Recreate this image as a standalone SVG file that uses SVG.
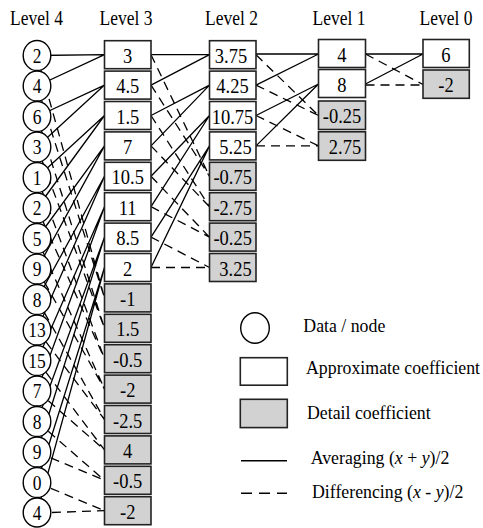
<svg xmlns="http://www.w3.org/2000/svg" width="483" height="528" viewBox="0 0 483 528">
<style>
.s{stroke:#000;stroke-width:1.3;fill:none}
.d{stroke-dasharray:9 6}
.c{fill:#fff;stroke:#000;stroke-width:1.4}
.b{fill:#fff;stroke:#222;stroke-width:1.6}
.g{fill:#d2d2d2;stroke:#222;stroke-width:1.6}
text{font-family:"Liberation Serif","Times New Roman",serif;fill:#000}
.h{font-size:17.5px;text-anchor:middle}
.v{font-size:18.5px;text-anchor:middle}
.n{font-size:17.5px;text-anchor:middle}
.l{font-size:17.8px}
</style>
<rect width="483" height="528" fill="#fff"/>
<g id="headers">
<text class="h" transform="translate(36.5 25) scale(1 1.15)">Level 4</text>
<text class="h" transform="translate(126 25) scale(1 1.15)">Level 3</text>
<text class="h" transform="translate(231.5 25) scale(1 1.15)">Level 2</text>
<text class="h" transform="translate(339 25) scale(1 1.15)">Level 1</text>
<text class="h" transform="translate(446 25) scale(1 1.15)">Level 0</text>
</g>
<g id="connectors">
<!-- Level 4 to Level 3: averaging -->
<path class="s" d="M37 55.5L104.5 54.7M37 86L104.5 54.7M37 116.5L104.5 85.1M37 147L104.5 85.1M37 177.5L104.5 115.5M37 208L104.5 115.5M37 238.5L104.5 145.9M37 269L104.5 145.9M37 299.5L104.5 176.3M37 330L104.5 176.3M37 360.5L104.5 206.7M37 391L104.5 206.7M37 421.5L104.5 237.1M37 452L104.5 237.1M37 482.5L104.5 267.5M37 513L104.5 267.5"/>
<!-- Level 4 to Level 3: differencing -->
<path class="s d" d="M37 55.5L104.5 297.9M37 86L104.5 297.9M37 116.5L104.5 328.3M37 147L104.5 328.3M37 177.5L104.5 358.7M37 208L104.5 358.7M37 238.5L104.5 389.1M37 269L104.5 389.1M37 299.5L104.5 419.5M37 330L104.5 419.5M37 360.5L104.5 449.9M37 391L104.5 449.9M37 421.5L104.5 480.3M37 452L104.5 480.3M37 482.5L104.5 510.7M37 513L104.5 510.7"/>
<!-- Level 3 to Level 2 -->
<path class="s" d="M151 54.7L209.5 54.7M151 85.1L209.5 54.7M151 115.5L209.5 85.1M151 145.9L209.5 85.1M151 176.3L209.5 115.5M151 206.7L209.5 115.5M151 237.1L209.5 145.9M151 267.5L209.5 145.9"/>
<path class="s d" d="M151 54.7L209.5 176.3M151 85.1L209.5 176.3M151 115.5L209.5 206.7M151 145.9L209.5 206.7M151 176.3L209.5 237.1M151 206.7L209.5 237.1M151 237.1L209.5 267.5M151 267.5L209.5 267.5"/>
<!-- Level 2 to Level 1 -->
<path class="s" d="M256 54L318.5 54M256 85.1L318.5 54M256 115.5L318.5 84M256 145.9L318.5 84"/>
<path class="s d" d="M256 54.7L318.5 115.5M256 85.1L318.5 115.5M256 115.5L318.5 145.9M256 145.9L318.5 145.9"/>
<!-- Level 1 to Level 0 -->
<path class="s" d="M365.5 54L423 54M365.5 84L423 54"/>
<path class="s d" d="M365.5 54L423 84.5M365.5 85L423 85"/>
</g>
<g id="level4">
<g id="n4-0"><ellipse class="c" cx="37" cy="55.5" rx="13.8" ry="15"/><text class="n" transform="translate(37 62.5) scale(1 1.15)">2</text></g>
<g id="n4-1"><ellipse class="c" cx="37" cy="86" rx="13.8" ry="15"/><text class="n" transform="translate(37 93) scale(1 1.15)">4</text></g>
<g id="n4-2"><ellipse class="c" cx="37" cy="116.5" rx="13.8" ry="15"/><text class="n" transform="translate(37 123.5) scale(1 1.15)">6</text></g>
<g id="n4-3"><ellipse class="c" cx="37" cy="147" rx="13.8" ry="15"/><text class="n" transform="translate(37 154) scale(1 1.15)">3</text></g>
<g id="n4-4"><ellipse class="c" cx="37" cy="177.5" rx="13.8" ry="15"/><text class="n" transform="translate(37 184.5) scale(1 1.15)">1</text></g>
<g id="n4-5"><ellipse class="c" cx="37" cy="208" rx="13.8" ry="15"/><text class="n" transform="translate(37 215) scale(1 1.15)">2</text></g>
<g id="n4-6"><ellipse class="c" cx="37" cy="238.5" rx="13.8" ry="15"/><text class="n" transform="translate(37 245.5) scale(1 1.15)">5</text></g>
<g id="n4-7"><ellipse class="c" cx="37" cy="269" rx="13.8" ry="15"/><text class="n" transform="translate(37 276) scale(1 1.15)">9</text></g>
<g id="n4-8"><ellipse class="c" cx="37" cy="299.5" rx="13.8" ry="15"/><text class="n" transform="translate(37 306.5) scale(1 1.15)">8</text></g>
<g id="n4-9"><ellipse class="c" cx="37" cy="330" rx="13.8" ry="15"/><text class="n" transform="translate(37 337) scale(1 1.15)">13</text></g>
<g id="n4-10"><ellipse class="c" cx="37" cy="360.5" rx="13.8" ry="15"/><text class="n" transform="translate(37 367.5) scale(1 1.15)">15</text></g>
<g id="n4-11"><ellipse class="c" cx="37" cy="391" rx="13.8" ry="15"/><text class="n" transform="translate(37 398) scale(1 1.15)">7</text></g>
<g id="n4-12"><ellipse class="c" cx="37" cy="421.5" rx="13.8" ry="15"/><text class="n" transform="translate(37 428.5) scale(1 1.15)">8</text></g>
<g id="n4-13"><ellipse class="c" cx="37" cy="452" rx="13.8" ry="15"/><text class="n" transform="translate(37 459) scale(1 1.15)">9</text></g>
<g id="n4-14"><ellipse class="c" cx="37" cy="482.5" rx="13.8" ry="15"/><text class="n" transform="translate(37 489.5) scale(1 1.15)">0</text></g>
<g id="n4-15"><ellipse class="c" cx="37" cy="512.5" rx="13.8" ry="14.5"/><text class="n" transform="translate(37 519.5) scale(1 1.15)">4</text></g>
</g>
<g id="level3">
<g id="n3-0"><rect class="b" x="104.5" y="40.7" width="46.5" height="28"/><text class="v" transform="translate(127.7 62.7) scale(1 1.15)">3</text></g>
<g id="n3-1"><rect class="b" x="104.5" y="71.1" width="46.5" height="28"/><text class="v" transform="translate(127.7 93.1) scale(1 1.15)">4.5</text></g>
<g id="n3-2"><rect class="b" x="104.5" y="101.5" width="46.5" height="28"/><text class="v" transform="translate(127.7 123.5) scale(1 1.15)">1.5</text></g>
<g id="n3-3"><rect class="b" x="104.5" y="131.9" width="46.5" height="28"/><text class="v" transform="translate(127.7 153.9) scale(1 1.15)">7</text></g>
<g id="n3-4"><rect class="b" x="104.5" y="162.3" width="46.5" height="28"/><text class="v" transform="translate(127.7 184.3) scale(1 1.15)">10.5</text></g>
<g id="n3-5"><rect class="b" x="104.5" y="192.7" width="46.5" height="28"/><text class="v" transform="translate(127.7 214.7) scale(1 1.15)">11</text></g>
<g id="n3-6"><rect class="b" x="104.5" y="223.1" width="46.5" height="28"/><text class="v" transform="translate(127.7 245.1) scale(1 1.15)">8.5</text></g>
<g id="n3-7"><rect class="b" x="104.5" y="253.5" width="46.5" height="28"/><text class="v" transform="translate(127.7 275.5) scale(1 1.15)">2</text></g>
<g id="n3-8"><rect class="g" x="104.5" y="283.9" width="46.5" height="28"/><text class="v" transform="translate(127.7 305.9) scale(1 1.15)">-1</text></g>
<g id="n3-9"><rect class="g" x="104.5" y="314.3" width="46.5" height="28"/><text class="v" transform="translate(127.7 336.3) scale(1 1.15)">1.5</text></g>
<g id="n3-10"><rect class="g" x="104.5" y="344.7" width="46.5" height="28"/><text class="v" transform="translate(127.7 366.7) scale(1 1.15)">-0.5</text></g>
<g id="n3-11"><rect class="g" x="104.5" y="375.1" width="46.5" height="28"/><text class="v" transform="translate(127.7 397.1) scale(1 1.15)">-2</text></g>
<g id="n3-12"><rect class="g" x="104.5" y="405.5" width="46.5" height="28"/><text class="v" transform="translate(127.7 427.5) scale(1 1.15)">-2.5</text></g>
<g id="n3-13"><rect class="g" x="104.5" y="435.9" width="46.5" height="28"/><text class="v" transform="translate(127.7 457.9) scale(1 1.15)">4</text></g>
<g id="n3-14"><rect class="g" x="104.5" y="466.3" width="46.5" height="28"/><text class="v" transform="translate(127.7 488.3) scale(1 1.15)">-0.5</text></g>
<g id="n3-15"><rect class="g" x="104.5" y="496.7" width="46.5" height="28"/><text class="v" transform="translate(127.7 518.7) scale(1 1.15)">-2</text></g>
</g>
<g id="level2">
<g id="n2-0"><rect class="b" x="209.5" y="40.7" width="46.5" height="28"/><text class="v" transform="translate(231 62.7) scale(1 1.15)">3.75</text></g>
<g id="n2-1"><rect class="b" x="209.5" y="71.1" width="46.5" height="28"/><text class="v" transform="translate(232.5 93.1) scale(1 1.15)">4.25</text></g>
<g id="n2-2"><rect class="b" x="209.5" y="101.5" width="46.5" height="28"/><text class="v" transform="translate(232.5 123.5) scale(1 1.15)">10.75</text></g>
<g id="n2-3"><rect class="b" x="209.5" y="131.9" width="46.5" height="28"/><text class="v" transform="translate(235.5 153.9) scale(1 1.15)">5.25</text></g>
<g id="n2-4"><rect class="g" x="209.5" y="162.3" width="46.5" height="28"/><text class="v" transform="translate(232.7 184.3) scale(1 1.15)">-0.75</text></g>
<g id="n2-5"><rect class="g" x="209.5" y="192.7" width="46.5" height="28"/><text class="v" transform="translate(232.7 214.7) scale(1 1.15)">-2.75</text></g>
<g id="n2-6"><rect class="g" x="209.5" y="223.1" width="46.5" height="28"/><text class="v" transform="translate(232.7 245.1) scale(1 1.15)">-0.25</text></g>
<g id="n2-7"><rect class="g" x="209.5" y="253.5" width="46.5" height="28"/><text class="v" transform="translate(235.5 275.5) scale(1 1.15)">3.25</text></g>
</g>
<g id="level1">
<g id="n1-0"><rect class="b" x="318.5" y="39.5" width="47" height="28"/><text class="v" transform="translate(342 61.5) scale(1 1.15)">4</text></g>
<g id="n1-1"><rect class="b" x="318.5" y="69.5" width="47" height="28"/><text class="v" transform="translate(342 91.5) scale(1 1.15)">8</text></g>
<g id="n1-2"><rect class="g" x="318.5" y="101" width="47" height="28.5"/><text class="v" transform="translate(342 123) scale(1 1.15)">-0.25</text></g>
<g id="n1-3"><rect class="g" x="318.5" y="131.8" width="47" height="28.5"/><text class="v" transform="translate(345 153.8) scale(1 1.15)">2.75</text></g>
</g>
<g id="level0">
<g id="n0-0"><rect class="b" x="423" y="39.5" width="46.3" height="28"/><text class="v" transform="translate(446 61.5) scale(1 1.15)">6</text></g>
<g id="n0-1"><rect class="g" x="423" y="70" width="46.3" height="28.3"/><text class="v" transform="translate(446 92) scale(1 1.15)">-2</text></g>
</g>
<g id="legend">
<g id="lg-data"><ellipse class="c" cx="255" cy="328" rx="14.3" ry="15.3"/><text class="l" transform="translate(303.3 332) scale(1 1.1)">Data / node</text></g>
<g id="lg-approx"><rect class="b" x="240.3" y="357.7" width="47" height="27.5"/><text class="l" transform="translate(306 373.5) scale(1 1.1)">Approximate coefficient</text></g>
<g id="lg-detail"><rect class="g" x="240.3" y="399.3" width="47" height="28.3"/><text class="l" transform="translate(307 418.5) scale(1 1.1)">Detail coefficient</text></g>
<g id="lg-avg"><path class="s" d="M241 460.7L287 460.7" style="stroke-width:1.6"/><text class="l" transform="translate(310.7 463.5) scale(1 1.1)">Averaging (<tspan font-style="italic">x</tspan> + <tspan font-style="italic">y</tspan>)/2</text></g>
<g id="lg-diff"><path class="s" d="M241 493.3L287 493.3" style="stroke-width:1.6;stroke-dasharray:11 7"/><text class="l" transform="translate(312 498) scale(1 1.1)">Differencing (<tspan font-style="italic">x</tspan> - <tspan font-style="italic">y</tspan>)/2</text></g>
</g>
</svg>
